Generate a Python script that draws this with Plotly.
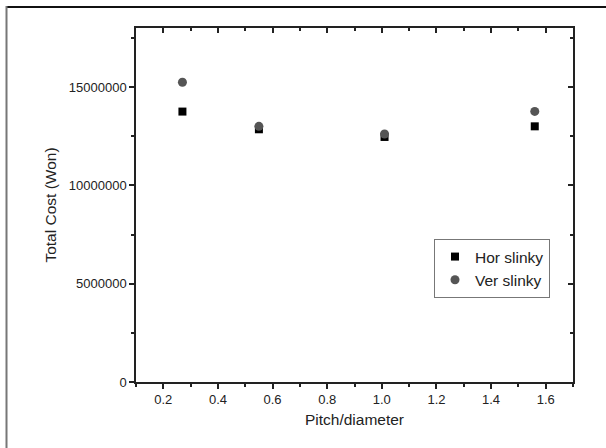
import plotly.graph_objects as go

pitch_ratio = [0.27, 0.55, 1.01, 1.56]
hor_slinky = [13750000, 12850000, 12460000, 13000000]
ver_slinky = [15240000, 13000000, 12610000, 13760000]

x_range = [0.1, 1.7]
y_range = [0, 18000000]

FONT = "Liberation Sans, Arial, sans-serif"
W, H = 606, 448
L, R, T, B = 136, 33, 28, 66

fig = go.Figure()
fig.add_trace(go.Scatter(x=pitch_ratio, y=hor_slinky, mode="markers", name="Hor slinky",
                         marker=dict(symbol="square", size=8, color="#000000")))
fig.add_trace(go.Scatter(x=pitch_ratio, y=ver_slinky, mode="markers", name="Ver slinky",
                         marker=dict(symbol="circle", size=9, color="#555555")))
# invisible trace to activate the mirror axes (top and right)
fig.add_trace(go.Scatter(x=[x_range[0]], y=[y_range[0]], xaxis="x2", yaxis="y2",
                         mode="markers", marker=dict(opacity=0), showlegend=False, hoverinfo="skip"))

axis_common = dict(showgrid=False, zeroline=False, showline=True, linecolor="#222", linewidth=1.5)

pw, ph = W - L - R, H - T - B
def px(xp):
    return (xp - L) / pw
def py(yp):
    return (H - B - yp) / ph

fig.update_layout(
    width=W, height=H, autosize=False,
    margin=dict(l=L, r=R, t=T, b=B, pad=0),
    paper_bgcolor="white", plot_bgcolor="white",
    font=dict(family=FONT, size=13, color="#222"),
    showlegend=True,
    legend=dict(x=px(434), y=py(239), xanchor="left", yanchor="top",
                bordercolor="#777", borderwidth=1, bgcolor="white",
                font=dict(family=FONT, size=15.5, color="#222"), tracegroupgap=0, itemwidth=30),
    xaxis=dict(range=x_range, dtick=0.2, tick0=0, tickformat=".1f", ticks="outside", ticklen=5, tickwidth=1.5,
               tickcolor="#222", tickfont=dict(size=13),
               minor=dict(dtick=0.1, ticks="outside", ticklen=3, tickwidth=1.5, tickcolor="#222"),
               title=dict(text="Pitch/diameter", font=dict(size=15.5), standoff=8), **axis_common),
    yaxis=dict(range=y_range, dtick=5000000, tick0=0, tickformat="d", ticks="outside", ticklen=5, tickwidth=1.5,
               tickcolor="#222", tickfont=dict(size=13),
               minor=dict(dtick=2500000, ticks="outside", ticklen=3, tickwidth=1.5, tickcolor="#222"),
               title=dict(text="Total Cost (Won)", font=dict(size=15.5), standoff=8), **axis_common),
    xaxis2=dict(range=x_range, overlaying="x", side="top", dtick=0.2, tick0=0, ticks="inside", ticklen=5,
                tickwidth=1.5, tickcolor="#222", showticklabels=False,
                minor=dict(dtick=0.1, ticks="inside", ticklen=3, tickwidth=1.5, tickcolor="#222"), **axis_common),
    yaxis2=dict(range=y_range, overlaying="y", side="right", dtick=5000000, tick0=0, ticks="inside", ticklen=5,
                tickwidth=1.5, tickcolor="#222", showticklabels=False,
                minor=dict(dtick=2500000, ticks="inside", ticklen=3, tickwidth=1.5, tickcolor="#222"), **axis_common),
)

# outer frame (top and left edges) in paper coordinates
fig.add_shape(type="line", xref="paper", yref="paper", x0=px(6), x1=px(W + 2), y0=py(7), y1=py(7),
              line=dict(color="#111", width=2))
fig.add_shape(type="line", xref="paper", yref="paper", x0=px(6.5), x1=px(6.5), y0=py(6), y1=py(H + 2),
              line=dict(color="#777", width=2))

fig.write_html("out.html", config={"displayModeBar": False},
               post_script="document.body.style.margin='0';")
